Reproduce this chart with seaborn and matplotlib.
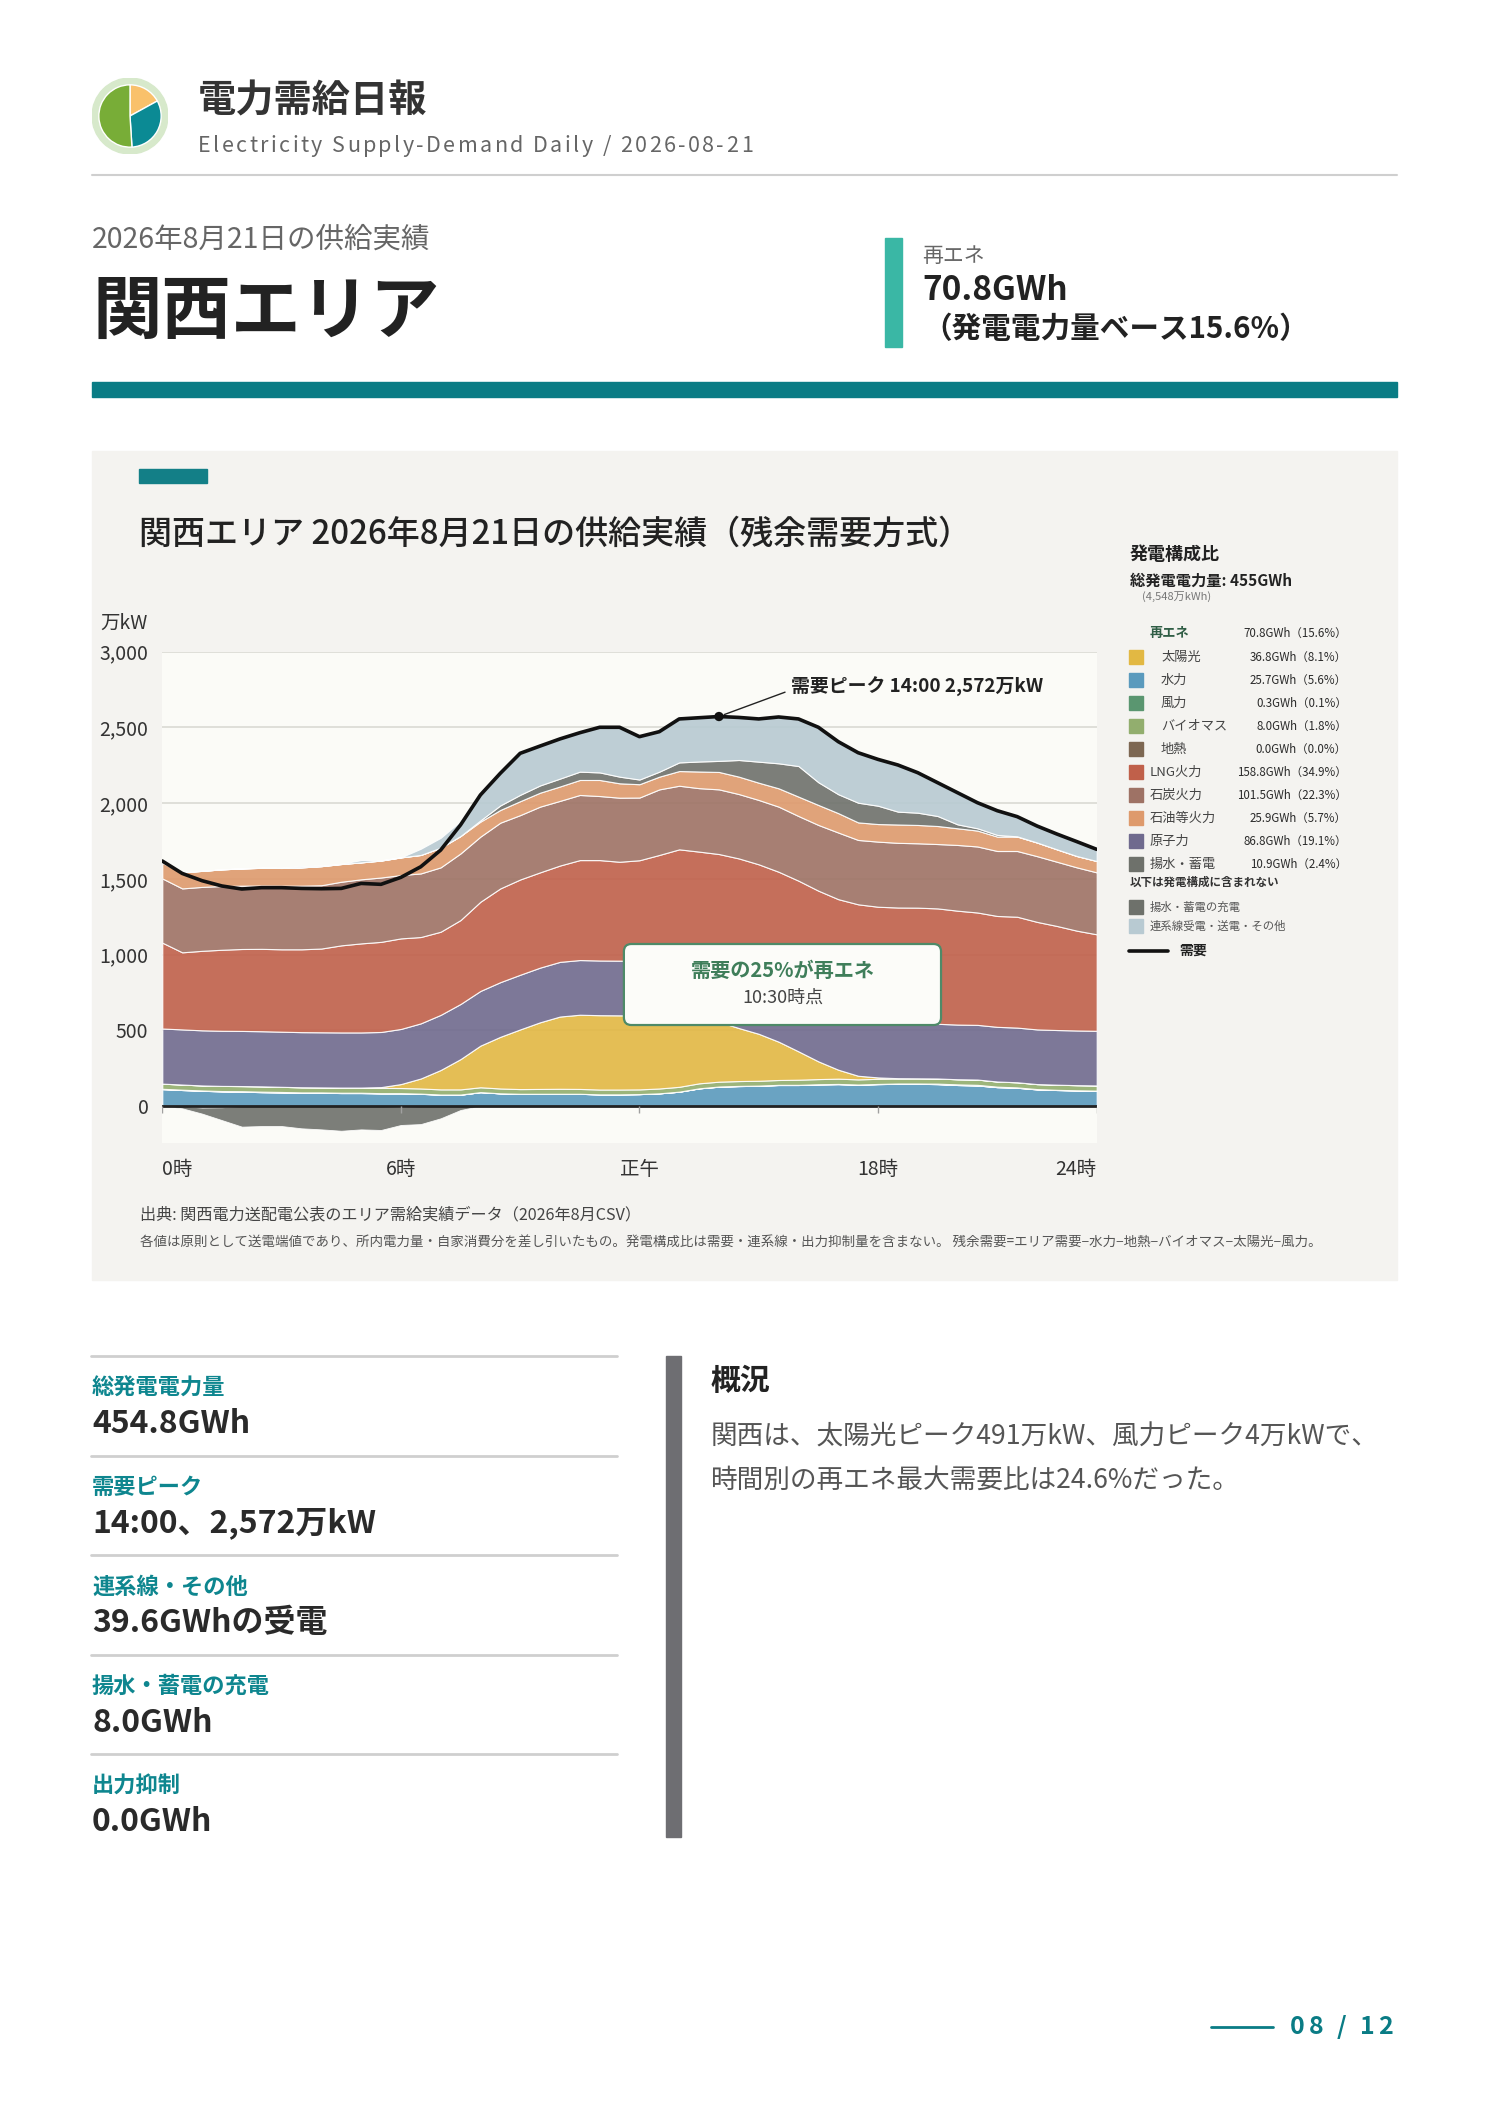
import numpy as np
import pandas as pd
import matplotlib
matplotlib.use("Agg")
import matplotlib.pyplot as plt
from matplotlib import font_manager
from matplotlib.ft2font import FT2Font
from matplotlib.patches import Rectangle, FancyBboxPatch, Circle
import seaborn as sns

# ---- data (万kW, 30分値) ----
times = [f"{i // 2}:{30 * (i % 2):02d}" for i in range(48)]

demand = [1618, 1536, 1488, 1453, 1433, 1442, 1442, 1437, 1435, 1437, 1470, 1464,
          1510, 1580, 1690, 1856, 2054, 2197, 2329, 2377, 2424, 2465, 2501, 2501,
          2439, 2472, 2556, 2564, 2572, 2566, 2556, 2569, 2556, 2501, 2406, 2333,
          2289, 2252, 2201, 2135, 2069, 2003, 1950, 1911, 1849, 1796, 1746, 1695]
hydro = [112, 106, 101, 97, 95, 92, 90, 88, 88, 86, 86, 84,
         84, 81, 75, 75, 92, 84, 81, 81, 81, 81, 77, 77,
         79, 84, 95, 117, 128, 132, 134, 139, 139, 143, 145, 141,
         145, 147, 147, 145, 139, 136, 125, 121, 110, 106, 103, 101]
geothermal = [0, 0, 0, 0, 0, 0, 0, 0, 0, 0, 0, 0,
              0, 0, 0, 0, 0, 0, 0, 0, 0, 0, 0, 0,
              0, 0, 0, 0, 0, 0, 0, 0, 0, 0, 0, 0,
              0, 0, 0, 0, 0, 0, 0, 0, 0, 0, 0, 0]
wind = [2, 2, 2, 2, 3, 3, 3, 2, 2, 2, 2, 1,
        1, 1, 1, 1, 0, 0, 0, 0, 0, 0, 0, 0,
        0, 0, 0, 0, 1, 1, 1, 1, 1, 1, 1, 1,
        1, 2, 2, 3, 4, 4, 3, 2, 2, 1, 1, 1]
biomass = [34, 34, 33, 34, 34, 35, 34, 34, 33, 34, 34, 35,
           34, 34, 34, 34, 32, 32, 31, 32, 33, 32, 32, 32,
           31, 32, 32, 33, 32, 32, 32, 32, 34, 34, 35, 34,
           34, 33, 34, 34, 34, 35, 34, 34, 33, 34, 34, 34]
solar = [0, 0, 0, 0, 0, 0, 0, 0, 0, 0, 0, 5,
         26, 66, 128, 200, 275, 341, 394, 440, 477, 490, 491, 490,
         488, 480, 460, 430, 395, 350, 310, 253, 187, 117, 59, 24,
         9, 2, 0, 0, 0, 0, 0, 0, 0, 0, 0, 0]
nuclear = [364, 364, 364, 364, 364, 364, 364, 364, 364, 364, 364, 364,
           364, 364, 364, 364, 361, 361, 361, 361, 361, 361, 361, 361,
           361, 361, 361, 361, 361, 361, 361, 361, 361, 361, 361, 361,
           361, 361, 361, 361, 361, 361, 361, 361, 361, 361, 361, 361]
lng = [567, 509, 525, 535, 541, 544, 544, 547, 553, 575, 588, 595,
       598, 570, 549, 554, 589, 619, 629, 629, 636, 660, 663, 653,
       664, 701, 747, 739, 747, 759, 758, 761, 766, 766, 765, 771,
       766, 766, 766, 762, 752, 742, 732, 732, 710, 687, 659, 637]
coal = [424, 422, 422, 421, 418, 418, 420, 420, 418, 420, 423, 425,
        418, 420, 425, 440, 430, 434, 425, 434, 427, 430, 423, 423,
        414, 433, 420, 419, 427, 425, 425, 430, 427, 434, 440, 425,
        430, 427, 425, 425, 434, 436, 429, 434, 434, 424, 418, 409]
oil = [104, 106, 106, 110, 114, 117, 117, 121, 126, 117, 112, 112,
       117, 122, 130, 115, 99, 84, 92, 92, 95, 99, 106, 95,
       88, 84, 97, 110, 115, 115, 114, 121, 128, 132, 128, 116,
       116, 121, 121, 119, 110, 105, 95, 95, 90, 82, 75, 75]
pumped = [0, 0, 0, 0, 0, 0, 0, 0, 0, 0, 0, 0,
          0, 0, 0, 0, 8, 30, 42, 48, 52, 55, 50, 44,
          31, 33, 57, 66, 73, 110, 139, 165, 202, 150, 125, 130,
          121, 85, 81, 66, 26, 15, 11, 2, 0, 0, 0, 0]
tie = [11, 8, -10, -8, 0, 2, 2, 8, 4, 2, 15, 2,
       -5, 41, 65, 99, 168, 212, 273, 260, 263, 257, 298, 326,
       282, 264, 287, 290, 293, 281, 282, 306, 311, 363, 348, 330,
       306, 313, 264, 220, 209, 170, 160, 130, 108, 101, 95, 77]
charge = [0, 15, 40, 85, 136, 132, 132, 147, 154, 163, 154, 158,
          120, 119, 81, 26, 0, 0, 0, 0, 0, 0, 0, 0,
          0, 0, 0, 0, 0, 0, 0, 0, 0, 0, 0, 0,
          0, 0, 0, 0, 0, 0, 0, 0, 0, 0, 0, 0]

legend_labels = ['太陽光', '水力', '風力', 'バイオマス', '地熱', 'LNG火力',
                 '石炭火力', '石油等火力', '原子力', '揚水・蓄電']
legend_values = ['36.8GWh（8.1%）', '25.7GWh（5.6%）', '0.3GWh（0.1%）',
                 '8.0GWh（1.8%）', '0.0GWh（0.0%）', '158.8GWh（34.9%）',
                 '101.5GWh（22.3%）', '25.9GWh（5.7%）', '86.8GWh（19.1%）',
                 '10.9GWh（2.4%）']
renew_subitems = ['太陽光', '水力', '風力', 'バイオマス', '地熱']

x_ticks = [0, 6, 12, 18, 23.5]
x_ticklabels = ['0時', '6時', '正午', '18時', '24時']
y_ticks = [0, 500, 1000, 1500, 2000, 2500, 3000]

kpi_labels = ['総発電電力量', '需要ピーク', '連系線・その他', '揚水・蓄電の充電', '出力抑制']
kpi_values = ['454.8GWh', '14:00、2,572万kW', '39.6GWhの受電', '8.0GWh', '0.0GWh']

logo_shares = [17, 32, 51]

# ---- colours ----
col = {
    '太陽光': '#E2B843', '水力': '#5A9ABD', '風力': '#5A9670', 'バイオマス': '#92AE6E',
    '地熱': '#7D6752', 'LNG火力': '#C0604A', '石炭火力': '#9E7265', '石油等火力': '#DE9A6C',
    '原子力': '#6F6A8E', '揚水・蓄電': '#6E716B', '連系線': '#B8CAD2',
}
TEAL = '#0A7C85'
DARK = '#232323'

df = pd.DataFrame({'time': times, 'demand': demand})
df['hour'] = pd.to_timedelta(df['time'] + ':00').dt.total_seconds() / 3600

sns.set_theme(style="white")
plt.rcParams['font.family'] = ['Noto Sans CJK JP', 'DejaVu Sans']

W, H = 1488, 2105
fig = plt.figure(figsize=(W / 100, H / 100), dpi=100, facecolor='white')
bg = fig.add_axes([0, 0, 1, 1], zorder=0)
bg.set_xlim(0, W)
bg.set_ylim(H, 0)
bg.axis('off')


def txt(x, y, s, size, color=DARK, weight='normal', ha='left', va='center'):
    bg.text(x, y, s, fontsize=size, color=color, fontweight=weight, ha=ha, va=va)


def tracked(x, y, s, size, color, weight='normal', track=0.0, ha='left'):
    # text with extra letter spacing (px)
    prop = font_manager.FontProperties(family='Noto Sans CJK JP', weight=weight, size=size)
    font = FT2Font(font_manager.findfont(prop))
    font.set_size(size, 100)
    adv = [font.load_char(ord(c)).linearHoriAdvance / 65536 for c in s]
    total = sum(adv) + track * (len(s) - 1)
    x0 = x - total if ha == 'right' else x
    for c, a in zip(s, adv):
        bg.text(x0, y, c, fontproperties=prop, color=color, ha='left', va='center')
        x0 += a + track


# ---- header ----
logo = fig.add_axes([92 / W, 1 - 154 / H, 76 / W, 76 / H], zorder=1)
logo.add_patch(Circle((0, 0), 1, color='#D7E9CB'))
logo.pie(logo_shares, colors=['#F9C16B', '#0B8A94', '#78AD37'], startangle=90,
         counterclock=False, radius=0.82)
logo.set_xlim(-1, 1)
logo.set_ylim(-1, 1)
logo.set_aspect('equal')
logo.axis('off')

txt(198, 101, '電力需給日報', 27.5, '#333333', 'bold')
tracked(198, 146, 'Electricity Supply-Demand Daily / 2026-08-21', 15.5, '#666666', track=2.4)
bg.plot([92, 1397], [175, 175], color='#CFCFCF', lw=1.5)

txt(92, 240, '2026年8月21日の供給実績', 20.5, '#666666')
txt(92, 313, '関西エリア', 50, '#222222', 'bold')

bg.add_patch(Rectangle((885, 238), 17, 109, color='#3AB7A5'))
txt(922, 256, '再エネ', 15, '#666666')
txt(922, 290, '70.8GWh', 24, '#222222', 'bold')
txt(922, 329, '（発電電力量ベース15.6%）', 21.3, '#222222', 'bold')
bg.add_patch(Rectangle((92, 382), 1305, 15, color=TEAL))

# ---- chart panel ----
bg.add_patch(Rectangle((92, 451), 1305, 829, color='#F4F3F0'))
bg.add_patch(Rectangle((139, 469), 68, 14, color='#137F87'))
txt(139, 534, '関西エリア 2026年8月21日の供給実績（残余需要方式）', 23.8, '#222222', 'medium')
txt(148, 623, '万kW', 14, '#333333', ha='right')

ax = fig.add_axes([162.3 / W, 1 - 1143.3 / H, 934.4 / W, 491.6 / H], zorder=2)
ax.set_facecolor('#FBFBF7')
hours = df['hour'].to_numpy()

pos_layers = [hydro, geothermal, wind, biomass, solar, nuclear, lng, coal, oil, pumped,
              np.clip(tie, 0, None)]
pos_colors = [col['水力'], col['地熱'], col['風力'], col['バイオマス'], col['太陽光'],
              col['原子力'], col['LNG火力'], col['石炭火力'], col['石油等火力'],
              col['揚水・蓄電'], col['連系線']]
ax.stackplot(hours, *pos_layers, colors=pos_colors, alpha=0.9,
             edgecolor='white', linewidth=0.8, zorder=2)
ax.stackplot(hours, np.clip(tie, None, 0), -np.array(charge),
             colors=[col['連系線'], col['揚水・蓄電']], alpha=0.9,
             edgecolor='white', linewidth=0.6, zorder=2)

ax.axhline(0, color='#222222', lw=2, zorder=3)
ax.vlines(x_ticks, -46, 0, color='#A0A0A0', lw=1, zorder=3)
sns.lineplot(data=df, x='hour', y='demand', ax=ax, color='#111111', lw=2.6, zorder=4)

i_pk = int(np.argmax(demand))
sns.scatterplot(x=[hours[i_pk]], y=[demand[i_pk]], ax=ax, color='#111111', s=45,
                zorder=5, edgecolor='none')
ax.annotate(f'需要ピーク {times[i_pk]} {demand[i_pk]:,}万kW', xy=(hours[i_pk], demand[i_pk]),
            xytext=(15.81, 2767), fontsize=13.6, fontweight='bold', color='#222222',
            ha='left', va='center', zorder=6,
            arrowprops=dict(arrowstyle='-', lw=1, color='#222222', relpos=(0, 0.35),
                            shrinkA=2, shrinkB=4))

ax.add_patch(FancyBboxPatch((0.494, 0.2406), 0.3394, 0.1648, transform=ax.transAxes,
                            boxstyle='round,pad=0,rounding_size=0.008', mutation_aspect=1.9,
                            facecolor='#FCFCF9', edgecolor='#4E8A68', lw=1.6, zorder=7))
ax.text(0.6637, 0.3526, '需要の25%が再エネ', transform=ax.transAxes, fontsize=14.5,
        fontweight='bold', color='#3F7E5A', ha='center', va='center', zorder=8)
ax.text(0.6637, 0.2956, '10:30時点', transform=ax.transAxes, fontsize=13,
        color='#444444', ha='center', va='center', zorder=8)

ax.set_xlim(0, 23.5)
ax.set_ylim(-246, 3000)
ax.set_yticks(y_ticks)
ax.set_yticklabels([f'{v:,}' for v in y_ticks])
ax.set_xticks(x_ticks)
ax.set_xticklabels(x_ticklabels)
xl = ax.get_xticklabels()
xl[0].set_ha('left')
xl[-1].set_ha('right')
ax.tick_params(axis='y', length=0, pad=10, labelsize=14, labelcolor='#333333')
ax.tick_params(axis='x', length=0, pad=11, labelsize=14, labelcolor='#333333')
ax.yaxis.grid(True, color='#DCDCD6', lw=1.3)
ax.xaxis.grid(False)
ax.set_axisbelow(True)
ax.set_xlabel('')
ax.set_ylabel('')
for s in ax.spines.values():
    s.set_visible(False)

# ---- legend column ----
txt(1130, 555, '発電構成比', 13, '#222222', 'bold')
txt(1130, 581, '総発電電力量: 455GWh', 11, '#222222', 'bold')
txt(1142, 597, '(4,548万kWh)', 8, '#777777')
txt(1150, 633, '再エネ', 9.5, '#2F5D45', 'bold')
txt(1347, 633, '70.8GWh（15.6%）', 8.3, '#2A2A2A', ha='right')
for i, (lab, val) in enumerate(zip(legend_labels, legend_values)):
    yy = 657 + 23 * i
    bg.add_patch(Rectangle((1129, yy - 7), 14, 14, color=col[lab]))
    txt(1161 if lab in renew_subitems else 1150, yy, lab, 9.5, '#444444')
    txt(1347, yy, val, 8.3, '#2A2A2A', ha='right')
txt(1130, 882, '以下は発電構成に含まれない', 8.3, '#333333', 'bold')
bg.add_patch(Rectangle((1129, 900), 14, 14, color=col['揚水・蓄電']))
txt(1150, 907, '揚水・蓄電の充電', 8.2, '#555555')
bg.add_patch(Rectangle((1129, 919), 14, 14, color=col['連系線']))
txt(1150, 926, '連系線受電・送電・その他', 8.2, '#555555')
bg.plot([1129, 1168], [951, 951], color='#111111', lw=2.6)
txt(1179, 951, '需要', 10, '#222222', 'bold')

txt(140, 1215, '出典: 関西電力送配電公表のエリア需給実績データ（2026年8月CSV）', 11.6, '#444444')
txt(140, 1243, '各値は原則として送電端値であり、所内電力量・自家消費分を差し引いたもの。'
    '発電構成比は需要・連系線・出力抑制量を含まない。 残余需要=エリア需要−水力−地熱−バイオマス−太陽光−風力。',
    9.7, '#555555')

# ---- KPI list ----
for i, (lab, val) in enumerate(zip(kpi_labels, kpi_values)):
    y0 = 1356 + 99.5 * i
    bg.plot([91, 617], [y0, y0], color='#CFCFCF', lw=2)
    txt(92, y0 + 32, lab, 16, '#0E868F', 'bold')
    txt(92, y0 + 68, val, 23, '#2A2A2A', 'bold')

bg.add_patch(Rectangle((666, 1356), 15, 481, color='#6E6E72'))
txt(711, 1381, '概況', 21.5, '#222222', 'bold')
txt(711, 1437, '関西は、太陽光ピーク491万kW、風力ピーク4万kWで、', 19.2, '#555555')
txt(711, 1480, '時間別の再エネ最大需要比は24.6%だった。', 19.2, '#555555')

bg.plot([1211, 1273], [2027, 2027], color=TEAL, lw=2)
tracked(1393, 2027, '08 / 12', 18, TEAL, weight='bold', track=3.8, ha='right')

fig.savefig('out.png', dpi=100, facecolor='white')
